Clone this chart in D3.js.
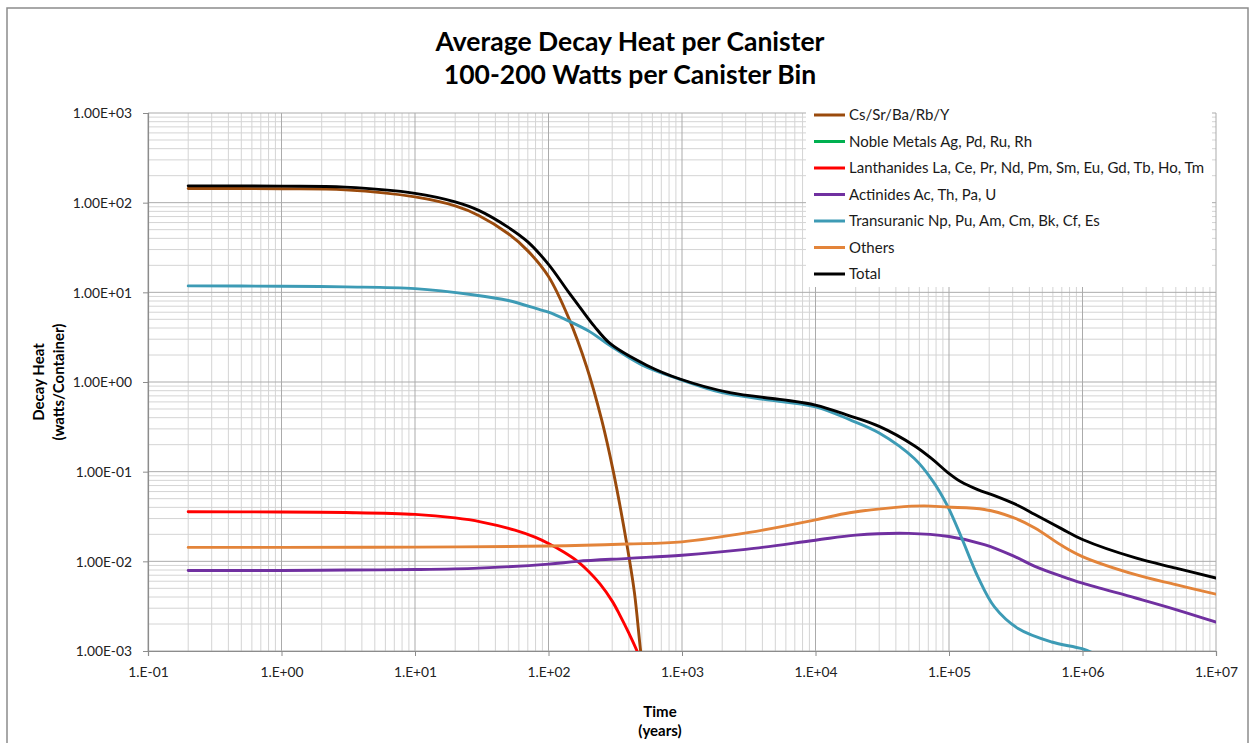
<!DOCTYPE html>
<html><head><meta charset="utf-8">
<script src="https://cdn.jsdelivr.net/npm/d3@7"></script>
<style>
body{margin:0;background:#fff;}
svg{display:block;font-family:Lato,"Open Sans",sans-serif;}
</style>
</head><body>
<svg id="chart" width="1250" height="743"></svg>
<script>
// ---------- DATA (time in years, decay heat in watts/container) ----------
const titleLines = ["Average Decay Heat per Canister", "100-200 Watts per Canister Bin"];
const yTitleLines = ["Decay Heat", "(watts/Container)"];
const xTitleLines = ["Time", "(years)"];

const xTickValues = [1e-1, 1e0, 1e1, 1e2, 1e3, 1e4, 1e5, 1e6, 1e7];
const xTickLabels = ["1.E-01","1.E+00","1.E+01","1.E+02","1.E+03","1.E+04","1.E+05","1.E+06","1.E+07"];
const yTickValues = [1e-3, 1e-2, 1e-1, 1e0, 1e1, 1e2, 1e3];
const yTickLabels = ["1.00E-03","1.00E-02","1.00E-01","1.00E+00","1.00E+01","1.00E+02","1.00E+03"];

const seriesNames = [
  "Cs/Sr/Ba/Rb/Y",
  "Noble Metals Ag, Pd, Ru, Rh",
  "Lanthanides La, Ce, Pr, Nd, Pm, Sm, Eu, Gd, Tb, Ho, Tm",
  "Actinides Ac, Th, Pa, U",
  "Transuranic Np, Pu, Am, Cm, Bk, Cf, Es",
  "Others",
  "Total"
];
const seriesColors = ["#9a4a0c", "#00b050", "#ff0000", "#7030a0", "#3d9bb5", "#e3843a", "#000000"];

const csSr = [[0.2,144],[1,143],[3,139],[10,116],[20,92],[30,72],[50,45],[70,29],[100,15],
  [141,5.25],[193,1.48],[250,0.38],[306,0.1],[385,0.0159],[440,0.0045],[490,0.001],[530,0.0004]];
const nobleMetals = []; // below the plotted range, not visible
const lanthanides = [[0.2,0.0357],[1,0.0355],[3,0.035],[10,0.0334],[20,0.0305],[31,0.0276],[56,0.0223],
  [80,0.0185],[100,0.0158],[130,0.0127],[165,0.0100],[200,0.0077],[243,0.0056],[300,0.0036],
  [343,0.0025],[400,0.00158],[463,0.00098],[520,0.0006]];
const actinides = [[0.2,0.0079],[1,0.0079],[3,0.008],[10,0.0081],[30,0.0084],[100,0.0093],[165,0.0100],
  [400,0.0108],[1000,0.0117],[3000,0.0136],[10000,0.0172],[20000,0.0196],[50000,0.0205],
  [100000,0.0189],[184000,0.0154],[300000,0.0116],[440000,0.0088],[700000,0.0068],[1000000,0.0057],
  [2500000,0.0039],[5000000,0.0029],[10000000,0.0021]];
const transuranic = [[0.2,11.8],[1,11.7],[3,11.5],[10,11.0],[27,9.4],[50,8.1],[86,6.4],[100,6.0],
  [141,4.8],[200,3.7],[289,2.55],[500,1.55],[1000,1.05],[2000,0.76],[3800,0.65],[10000,0.53],
  [18000,0.38],[30000,0.27],[55000,0.14],[75000,0.08],[97000,0.042],[123000,0.019],
  [164000,0.0068],[219000,0.0031],[329000,0.00178],[587000,0.00126],[990000,0.00106],[1300000,0.0009]];
const others = [[0.2,0.0143],[1,0.0143],[10,0.0144],[100,0.0148],[385,0.0156],[1000,0.0165],
  [3200,0.021],[10000,0.029],[18000,0.0348],[40000,0.040],[65000,0.0415],[97000,0.0403],
  [184000,0.0379],[300000,0.031],[440000,0.0236],[700000,0.015],[1000000,0.0113],
  [2500000,0.0071],[5000000,0.0055],[10000000,0.0043]];
const total = [[0.2,154],[1,153],[3,149],[10,127],[20,102],[30,82],[50,53],[70,36.5],[100,20.5],
  [141,10.1],[172,6.8],[220,4.2],[289,2.69],[543,1.54],[966,1.08],[2290,0.76],[5400,0.64],
  [10000,0.553],[18000,0.42],[30000,0.32],[55000,0.195],[75000,0.138],[97000,0.099],
  [123000,0.077],[164000,0.063],[219000,0.054],[329000,0.042],[440000,0.0333],[700000,0.023],
  [1000000,0.0175],[2500000,0.0109],[5000000,0.0084],[10000000,0.0065]];

const seriesData = [csSr, nobleMetals, lanthanides, actinides, transuranic, others, total];

// ---------- LAYOUT ----------
const svg = d3.select("#chart");
const plot = {left: 148, right: 1216, top: 113, bottom: 651};

const x = d3.scaleLog().domain([1e-1, 1e7]).range([plot.left, plot.right]);
const y = d3.scaleLog().domain([1e-3, 1e3]).range([plot.bottom, plot.top]);

// outer frame
svg.append("rect").attr("x", 7).attr("y", 8).attr("width", 1241).attr("height", 760)
  .attr("fill", "#fff").attr("stroke", "#8c8c8c").attr("stroke-width", 1.5);

// grid
const xMinor = [], yMinor = [];
for (let d = -1; d < 7; d++) for (let k = 2; k <= 9; k++) xMinor.push(k * Math.pow(10, d));
for (let d = -3; d < 3; d++) for (let k = 2; k <= 9; k++) yMinor.push(k * Math.pow(10, d));

const grid = svg.append("g");
grid.selectAll(".vmin").data(xMinor).enter().append("line")
  .attr("x1", d => x(d)).attr("x2", d => x(d)).attr("y1", plot.top).attr("y2", plot.bottom)
  .attr("stroke", "#d4d4d4").attr("stroke-width", 1);
grid.selectAll(".hmin").data(yMinor).enter().append("line")
  .attr("y1", d => y(d)).attr("y2", d => y(d)).attr("x1", plot.left).attr("x2", plot.right)
  .attr("stroke", "#d4d4d4").attr("stroke-width", 1);
grid.selectAll(".vmaj").data(xTickValues).enter().append("line")
  .attr("x1", d => x(d)).attr("x2", d => x(d)).attr("y1", plot.top).attr("y2", plot.bottom)
  .attr("stroke", "#ababab").attr("stroke-width", 1);
grid.selectAll(".hmaj").data(yTickValues).enter().append("line")
  .attr("y1", d => y(d)).attr("y2", d => y(d)).attr("x1", plot.left).attr("x2", plot.right)
  .attr("stroke", "#ababab").attr("stroke-width", 1);

// axes
const yAxis = d3.axisLeft(y).tickValues(yTickValues)
  .tickFormat((d, i) => yTickLabels[i]).tickSize(5).tickPadding(11);
const gy = svg.append("g").attr("transform", `translate(${plot.left},0)`).call(yAxis);
const xAxis = d3.axisBottom(x).tickValues(xTickValues)
  .tickFormat((d, i) => xTickLabels[i]).tickSize(5).tickPadding(7);
const gx = svg.append("g").attr("transform", `translate(0,${plot.bottom})`).call(xAxis);
[gx, gy].forEach(g => {
  g.select(".domain").attr("stroke", "#8c8c8c").attr("stroke-width", 1.2);
  g.selectAll(".tick line").attr("stroke", "#8c8c8c");
  g.selectAll(".tick text").attr("fill", "#222").style("font-size", "13.8px")
    .style("font-family", "Lato, sans-serif");
});
gy.selectAll(".tick text").attr("dy", "0.35em");
gx.selectAll(".tick text").attr("dy", "1.0em");

// lines
svg.append("clipPath").attr("id", "clip").append("rect")
  .attr("x", plot.left).attr("y", plot.top - 2)
  .attr("width", plot.right - plot.left).attr("height", plot.bottom - plot.top + 2);
const line = d3.line().x(d => x(d[0])).y(d => y(d[1])).curve(d3.curveCatmullRom.alpha(0.5));
const lines = svg.append("g").attr("clip-path", "url(#clip)");
seriesData.forEach((data, i) => {
  if (!data.length) return;
  lines.append("path").datum(data).attr("d", line)
    .attr("fill", "none").attr("stroke", seriesColors[i]).attr("stroke-width", 2.9)
    .attr("stroke-linejoin", "round").attr("stroke-linecap", "round");
});

// legend
const lg = svg.append("g");
lg.append("rect").attr("x", 806).attr("y", 103).attr("width", 406).attr("height", 184).attr("fill", "#fff");
seriesNames.forEach((name, i) => {
  const cy = 115 + i * 26.5;
  lg.append("line").attr("x1", 814).attr("x2", 845).attr("y1", cy).attr("y2", cy)
    .attr("stroke", seriesColors[i]).attr("stroke-width", 3);
  lg.append("text").attr("x", 849).attr("y", cy).attr("dy", "0.36em")
    .style("font-size", "15px").attr("fill", "#1a1a1a").text(name);
});

// titles
svg.selectAll(".title").data(titleLines).enter().append("text")
  .attr("x", 630).attr("y", (d, i) => 42 + i * 33).attr("dy", "0.35em")
  .attr("text-anchor", "middle").style("font-size", "26.5px").style("font-weight", "bold")
  .attr("fill", "#000").text(d => d);

svg.selectAll(".xtitle").data(xTitleLines).enter().append("text")
  .attr("x", 660).attr("y", (d, i) => 712 + i * 19).attr("dy", "0.35em")
  .attr("text-anchor", "middle").style("font-size", "15px").style("font-weight", "bold")
  .attr("fill", "#000").text(d => d);

svg.selectAll(".ytitle").data(yTitleLines).enter().append("text")
  .attr("transform", (d, i) => `translate(${39 + i * 20},382) rotate(-90)`)
  .attr("dy", "0.35em").attr("text-anchor", "middle")
  .style("font-size", "15px").style("font-weight", "bold").attr("fill", "#000").text(d => d);
</script>
</body></html>
